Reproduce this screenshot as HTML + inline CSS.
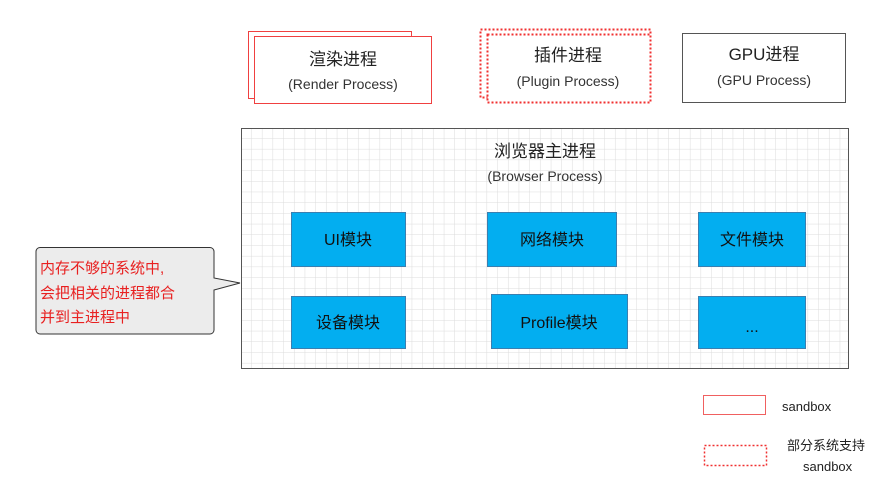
<!DOCTYPE html>
<html><head><meta charset="utf-8"><style>
html,body{margin:0;padding:0;background:#fff;}
text{font-family:"Liberation Sans","Noto Sans CJK SC",sans-serif;}
</style></head><body>
<svg width="890" height="494" viewBox="0 0 890 494" xmlns="http://www.w3.org/2000/svg">
<defs>
<pattern id="g" x="241" y="128" width="10.7" height="10.7" patternUnits="userSpaceOnUse">
<path d="M10.7 0V10.7M0 10.7H10.7" stroke="#dcdcdc" stroke-width="1" fill="none"/>
</pattern>
</defs>
<rect x="248.5" y="31.5" width="163" height="67" fill="#fff" stroke="#f04040" stroke-width="1"/>
<rect x="254.5" y="36.5" width="177" height="67" fill="#fff" stroke="#f04040" stroke-width="1"/>
<text x="343" y="65" font-size="17" text-anchor="middle" fill="#222">渲染进程</text>
<text x="343" y="89" font-size="14" text-anchor="middle" fill="#333">(Render Process)</text>
<rect x="480.5" y="29.5" width="170" height="68" fill="#fff" stroke="#f03030" stroke-width="2" stroke-dasharray="2,2"/>
<rect x="487.5" y="34.5" width="163" height="68" fill="#fff" stroke="#f03030" stroke-width="2" stroke-dasharray="2,2"/>
<text x="568" y="61" font-size="17" text-anchor="middle" fill="#222">插件进程</text>
<text x="568" y="86" font-size="14" text-anchor="middle" fill="#333">(Plugin Process)</text>
<rect x="682.5" y="33.5" width="163" height="69" fill="#fff" stroke="#555" stroke-width="1"/>
<text x="764" y="60" font-size="17" text-anchor="middle" fill="#222">GPU进程</text>
<text x="764" y="85" font-size="14" text-anchor="middle" fill="#333">(GPU Process)</text>
<rect x="241" y="128" width="608" height="241" fill="#fff"/>
<rect x="241" y="128" width="608" height="241" fill="url(#g)"/>
<rect x="241.5" y="128.5" width="607" height="240" fill="none" stroke="#555" stroke-width="1"/>
<text x="545" y="157" font-size="17" text-anchor="middle" fill="#222">浏览器主进程</text>
<text x="545" y="181" font-size="14" text-anchor="middle" fill="#333">(Browser Process)</text>
<g fill="#03aef0" stroke="#3a7fb0" stroke-width="1">
<rect x="291.5" y="212.5" width="114" height="54"/>
<rect x="487.5" y="212.5" width="129" height="54"/>
<rect x="698.5" y="212.5" width="107" height="54"/>
<rect x="291.5" y="296.5" width="114" height="52"/>
<rect x="491.5" y="294.5" width="136" height="54"/>
<rect x="698.5" y="296.5" width="107" height="52"/>
</g>
<g font-size="16" text-anchor="middle" fill="#111">
<text x="348" y="245">UI模块</text>
<text x="552" y="245">网络模块</text>
<text x="752" y="245">文件模块</text>
<text x="348" y="328">设备模块</text>
<text x="559" y="328">Profile模块</text>
<text x="752" y="332">...</text>
</g>
<path d="M40 247.5 H210 a4 4 0 0 1 4 4 V278 L240 283 L214 290 V330 a4 4 0 0 1 -4 4 H40 a4 4 0 0 1 -4 -4 V251.5 a4 4 0 0 1 4 -4Z" fill="#ececec" stroke="#333" stroke-width="1"/>
<g font-size="15" fill="#e82020">
<text x="40" y="273">内存不够的系统中,</text>
<text x="40" y="298">会把相关的进程都合</text>
<text x="40" y="322">并到主进程中</text>
</g>
<rect x="703.5" y="395.5" width="62" height="19" fill="none" stroke="#f06060" stroke-width="1"/>
<text x="782" y="411" font-size="13" fill="#222">sandbox</text>
<rect x="704.5" y="445.5" width="62" height="20" fill="none" stroke="#f03030" stroke-width="1.5" stroke-dasharray="2,2"/>
<text x="787" y="450" font-size="13" fill="#222">部分系统支持</text>
<text x="803" y="471" font-size="13" fill="#222">sandbox</text>
</svg>
</body></html>
